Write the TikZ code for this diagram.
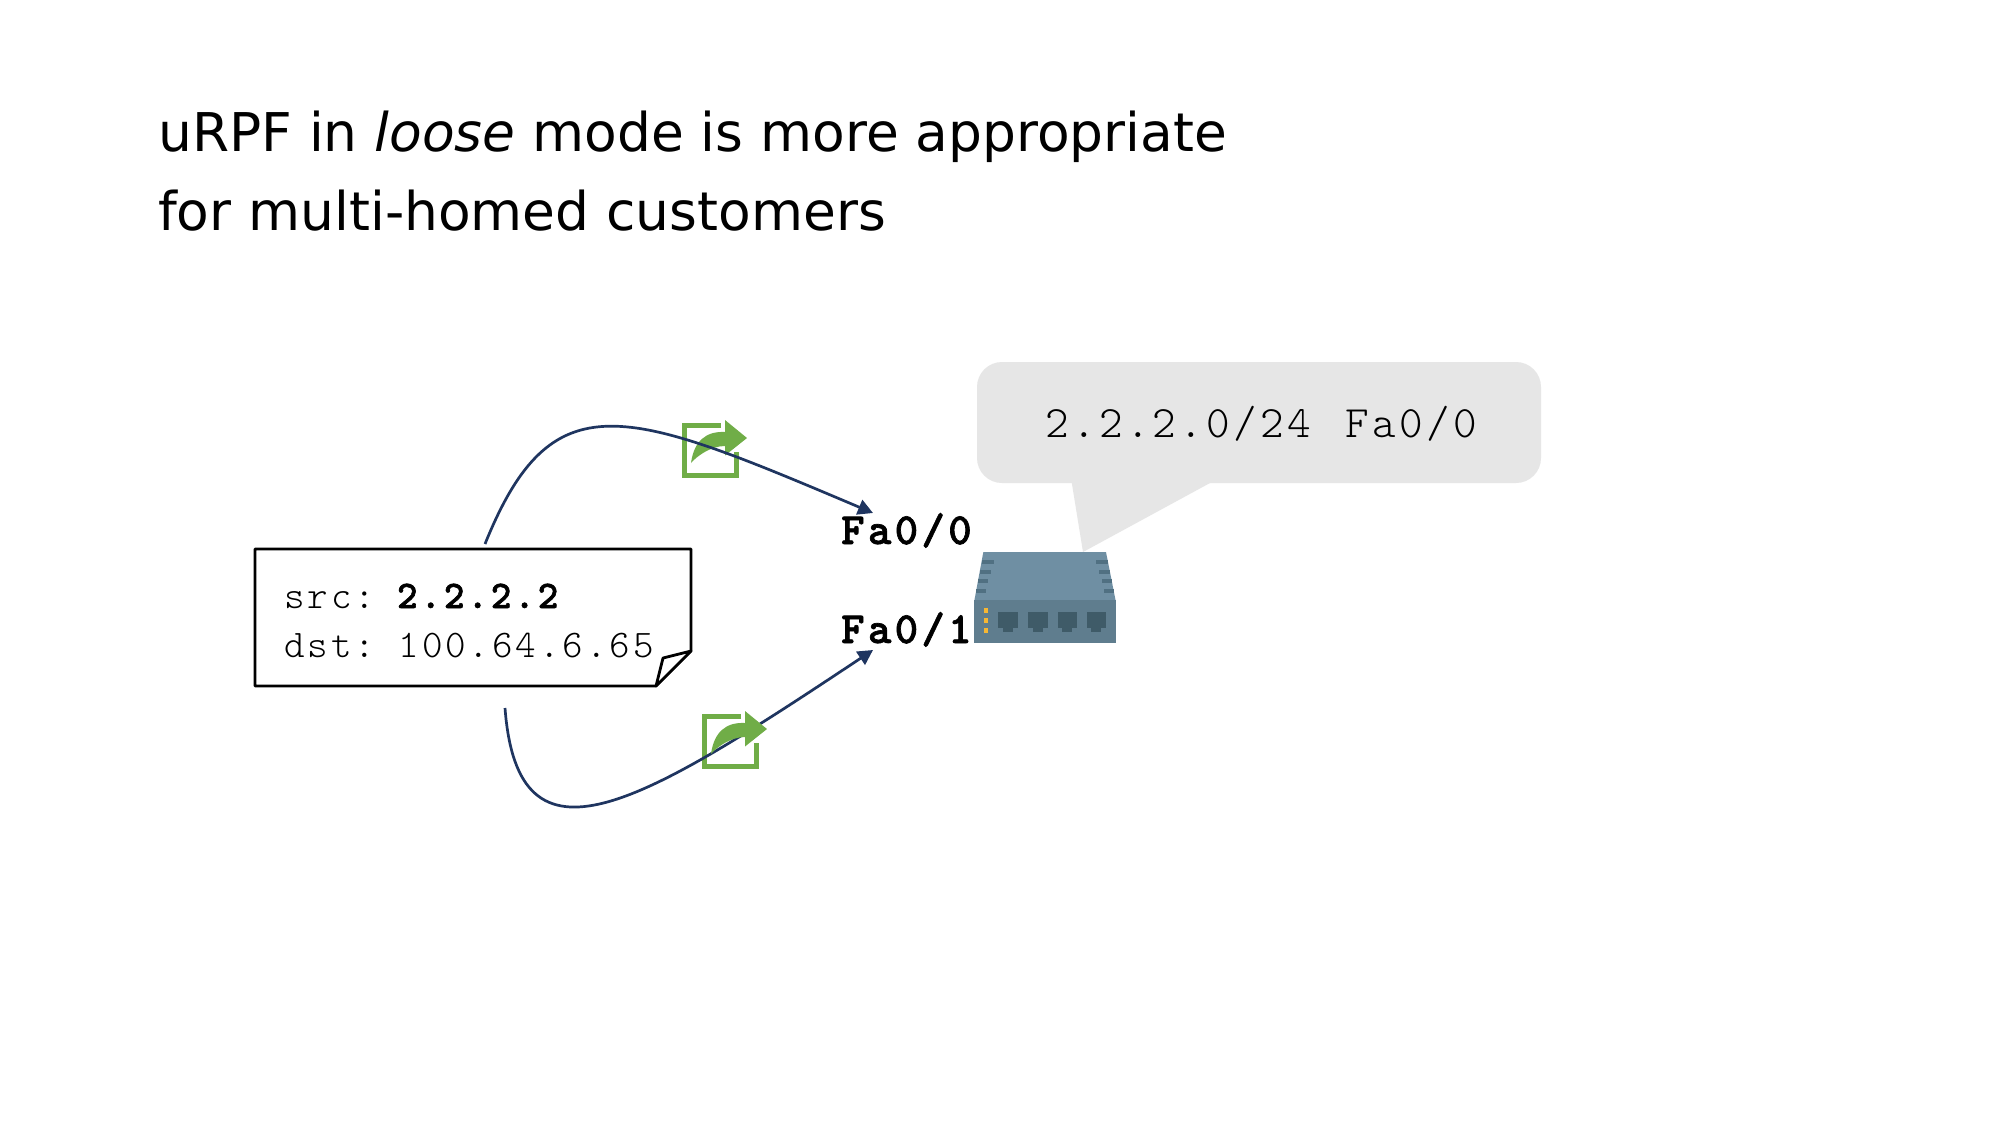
\documentclass[tikz,border=0pt]{standalone}
\usepackage{fontspec}
\usetikzlibrary{arrows.meta}
\setmainfont{DejaVu Sans}
\setmonofont[LetterSpace=7.5,BoldFeatures={FakeBold=1.5}]{Latin Modern Mono Light}
\definecolor{wire}{HTML}{1F3560}
\definecolor{leaf}{HTML}{70AD47}
\definecolor{bubble}{HTML}{E6E6E6}
\definecolor{lidblue}{HTML}{6F8FA3}
\definecolor{frontblue}{HTML}{5F7D8E}
\definecolor{portblue}{HTML}{3F5B68}
\definecolor{vent}{HTML}{507082}
\definecolor{led}{HTML}{F7B733}
\tikzset{
  x=1pt,y=-1pt,
  headline/.style={anchor=base west,inner sep=0pt,font=\fontsize{53.4}{56}\selectfont},
  mono/.style={anchor=base west,inner sep=0pt,font=\ttfamily\fontsize{#1}{#1}\selectfont},
  route/.style={draw=wire,line width=2.7pt,-{Triangle[length=15pt,width=15.5pt]}},
  packet/.style={draw=black,line width=2.8pt,fill=white,line join=round},
  sharebox/.pic={\draw[leaf,line width=5.5pt] (39,2.6) -- (2.6,2.6) -- (2.6,52.4) -- (54.4,52.4) -- (54.4,29);},
  sharearrow/.pic={\fill[leaf] (65,15) -- (43,-3) -- (43,9) .. controls (24,8) and (12,18) .. (9,40)
      .. controls (14,34) and (28,23) .. (43,23) -- (43,32.5) -- cycle;}
}
\begin{document}
\begin{tikzpicture}
\useasboundingbox (0,0) rectangle (2000,1125);
\fill[white] (0,0) rectangle (2000,1125);

% Heading
\node[headline] (titleA) at (158,151.5) {uRPF in \textit{loose} mode is more appropriate};
\node[headline] (titleB) at (158,230) {for multi-homed customers};

% Routing-table bubble
\fill[bubble,rounded corners=25pt] (977,362) rectangle (1541,483);
\fill[bubble] (1071,478) -- (1083,552) -- (1210,483) -- (1210,478) -- cycle;
\node[mono=44.9] (table) at (1045,437) {2.2.2.0/24\hspace{7.5pt} Fa0/0};

% Switch
\begin{scope}[shift={(950,530)},x=0.3333pt,y=-0.3333pt]
  \fill[lidblue] (100,66) -- (468,66) -- (497,212) -- (73,212) -- cycle;
  \fill[frontblue] (73,210) rectangle (497,338);
  \foreach \a/\b/\y in {97/131/90,91/123/119,85/115/148,79/109/177,438/474/90,447/479/119,455/487/148,461/491/177}
    \fill[vent] (\a,\y) rectangle (\b,\y+12);
  \foreach \y in {235,265,293}
    \fill[led] (101,\y) rectangle (115,\y+15);
  \foreach \a/\b in {145/205,235/293,323/380,410/468}{
    \fill[portblue] (\a,245) rectangle (\b,293);
    \fill[portblue] ({(\a+\b)/2-15},293) rectangle ({(\a+\b)/2+15},307);
  }
\end{scope}

% Interface names
\node[mono=44.6,font=\ttfamily\bfseries\fontsize{44.6}{44.6}\selectfont] (fa0) at (841,544) {Fa0/0};
\node[mono=44.6,font=\ttfamily\bfseries\fontsize{44.6}{44.6}\selectfont] (fa1) at (841,643) {Fa0/1};

% Forwarding icons and the two paths
\coordinate (upStart) at (485,544);
\coordinate (upEnd) at (873,513);
\coordinate (lowStart) at (505,708);
\coordinate (lowEnd) at (873,650);

\pic at (682,423) {sharearrow};
\pic at (682,423) {sharebox};
\draw[route] (upStart) .. controls (552,378) and (625,408) .. (upEnd);

\pic at (702,714) {sharebox};
\draw[route] (lowStart) .. controls (518,880) and (640,805) .. (lowEnd);
\pic at (702,714) {sharearrow};

% Packet note with a folded corner
\draw[packet] (255,549) -- (691,549) -- (691,651) -- (656,686) -- (255,686) -- cycle;
\draw[packet,fill=white] (691,651) -- (663,658) -- (656,686) -- cycle;
\node[mono=39.1] (src) at (284,608) {src:\hspace{-1.5pt} \textbf{2.2.2.2}};
\node[mono=39.1] (dst) at (284,657) {dst: 100.64.6.65};
\end{tikzpicture}
\end{document}
